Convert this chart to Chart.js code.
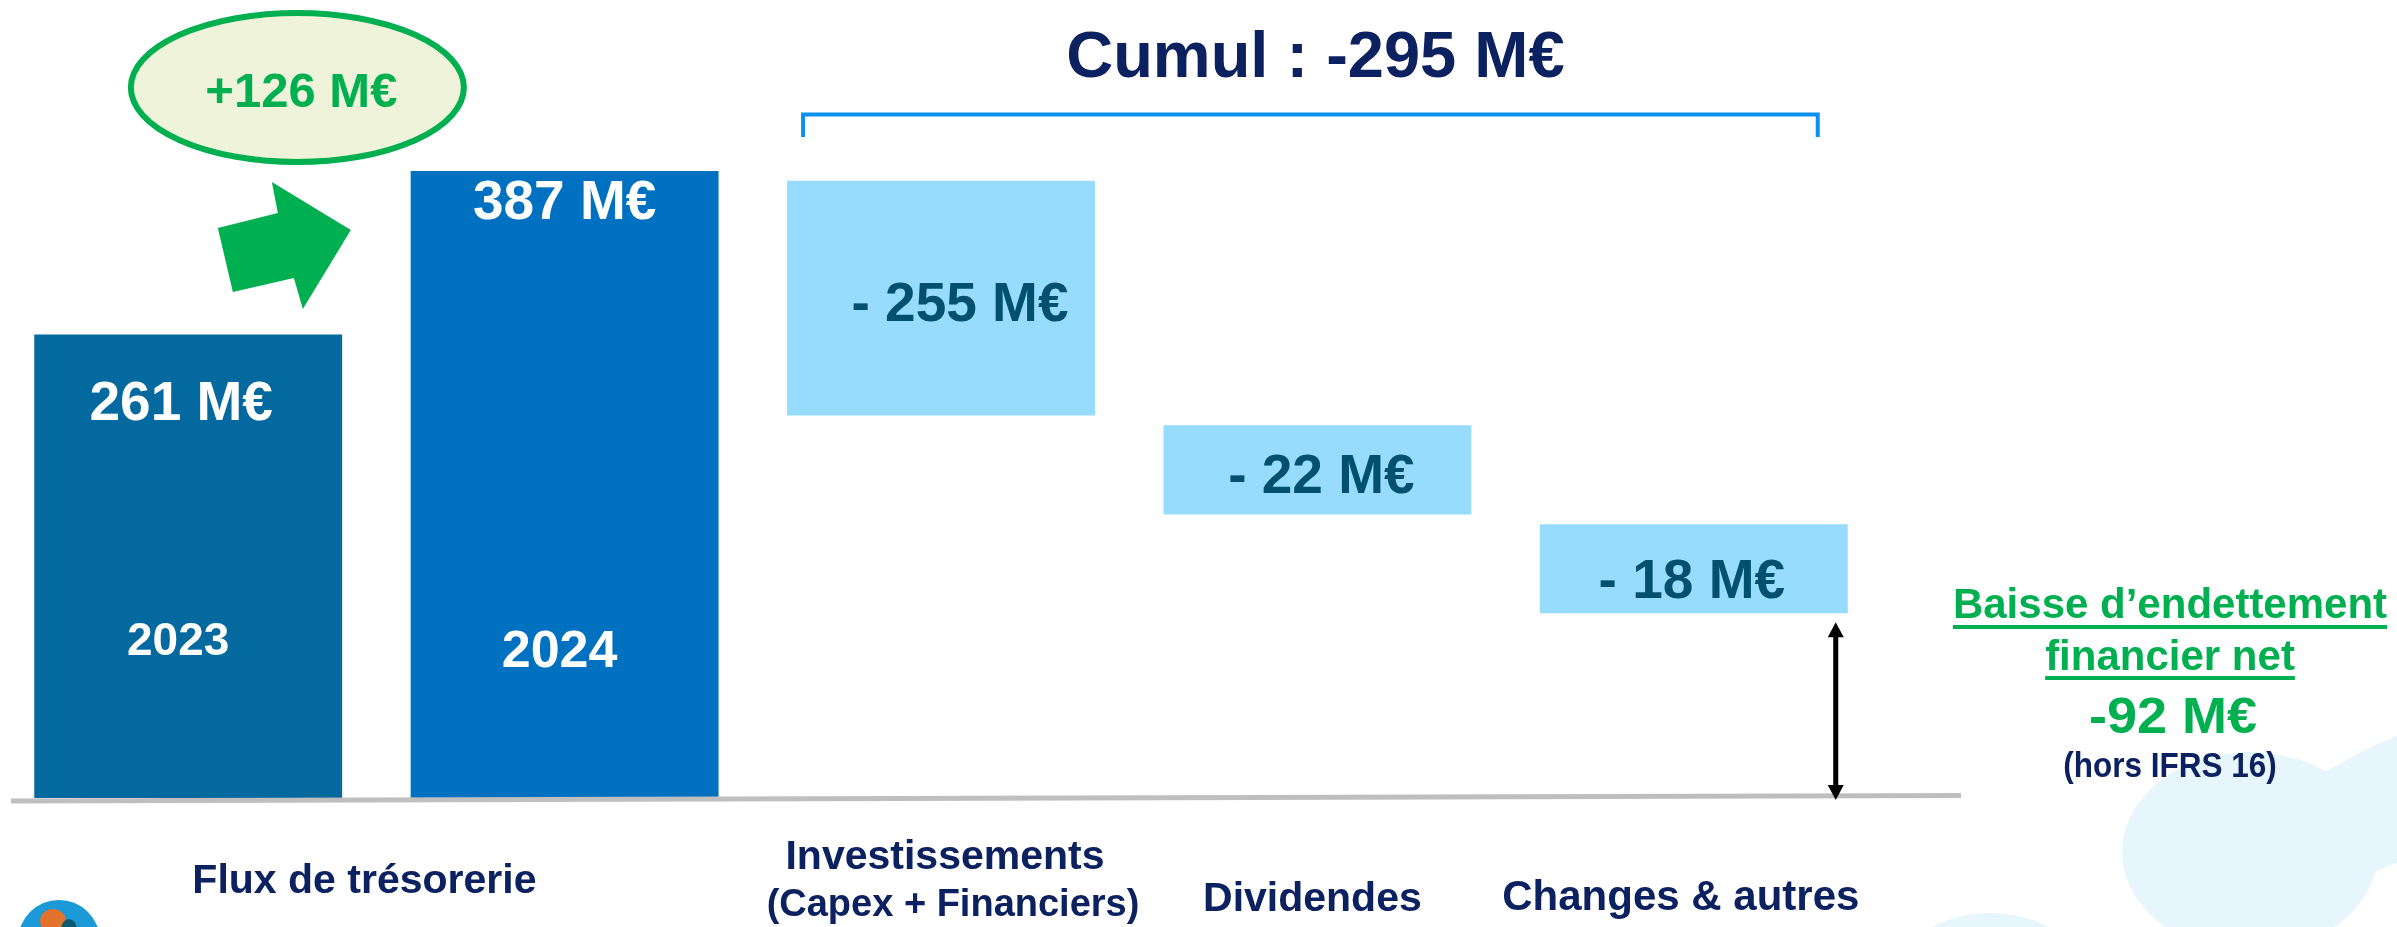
<!DOCTYPE html>
<html>
<head>
<meta charset="utf-8">
<script src="https://cdn.jsdelivr.net/npm/chart.js"></script>
<style>
  html, body { margin: 0; padding: 0; background: #ffffff; overflow: hidden; }
  canvas { display: block; }
</style>
</head>
<body>
<canvas id="c" width="2397" height="927"></canvas>
<script>
// ---- Data ----
const categories = ['2023', '2024', 'Investissements', 'Dividendes', 'Changes & autres'];
// Values printed on the bars (M€)
const valueLabels = [261, 387, -255, -22, -18];
// Bar extents as drawn on the slide (the slide is not drawn to scale),
// read off the picture on a hidden axis calibrated so the 2024 bar = 387
const barBase = [0, 0, 236, 175, 114];
const barTop  = [286, 387, 381, 230, 169];
const yearLabels = ['2023', '2024'];
const fluxLabel = 'Flux de trésorerie';
const axisLabels = [null, null, ['Investissements', '(Capex + Financiers)'], ['Dividendes'], ['Changes & autres']];
const deltaLabel = '+126 M€';
const cumulLabel = 'Cumul : -295 M€';
const debtTitle = ['Baisse d’endettement', 'financier net'];
const debtValue = '-92 M€';
const debtNote = '(hors IFRS 16)';

// ---- Styles ----
const barColors = ['#03699E', '#0070C0', '#97DCFD', '#97DCFD', '#97DCFD'];
const NAVY = '#0B2160';
const GREEN = '#00B050';
const TEAL = '#00506E';
const FONT = '"Liberation Sans", Arial, sans-serif';

function txt(ctx, s, x, y, size, color, sx, align) {
  ctx.save();
  ctx.font = 'bold ' + size + 'px ' + FONT;
  ctx.fillStyle = color;
  ctx.textAlign = align || 'center';
  ctx.textBaseline = 'alphabetic';
  ctx.translate(x, y);
  ctx.scale(sx || 1, 1);
  ctx.fillText(s, 0, 0);
  const w = ctx.measureText(s).width * (sx || 1);
  ctx.restore();
  return w;
}

function fmt(v) {
  return v < 0 ? '- ' + Math.abs(v) + ' M€' : v + ' M€';
}

const decoPlugin = {
  id: 'deco',
  beforeDatasetsDraw(chart) {
    const ctx = chart.ctx;
    ctx.save();
    ctx.fillStyle = '#ffffff';
    ctx.fillRect(0, 0, chart.width, chart.height);
    // faint background shapes (bottom right)
    ctx.fillStyle = '#E7F6FC';
    ctx.beginPath(); ctx.ellipse(2250, 852, 128, 100, 0, 0, Math.PI * 2); ctx.fill();
    ctx.beginPath(); ctx.ellipse(2395, 800, 175, 58, -0.45, 0, Math.PI * 2); ctx.fill();
    ctx.beginPath(); ctx.ellipse(1990, 1005, 110, 92, 0, 0, Math.PI * 2); ctx.fill();
    // partial logo bottom-left
    ctx.fillStyle = '#1B9AD7';
    ctx.beginPath(); ctx.arc(59, 941, 41, 0, Math.PI * 2); ctx.fill();
    ctx.fillStyle = '#ffffff';
    ctx.beginPath(); ctx.arc(59, 945, 25, 0, Math.PI * 2); ctx.fill();
    ctx.fillStyle = '#E2722C';
    ctx.beginPath(); ctx.ellipse(53, 921, 13, 12, 0, 0, Math.PI * 2); ctx.fill();
    ctx.fillStyle = '#0B5A6E';
    ctx.beginPath(); ctx.ellipse(69, 930, 8, 11, 0, 0, Math.PI * 2); ctx.fill();
    ctx.restore();
  },
  afterDatasetsDraw(chart) {
    const ctx = chart.ctx;
    const bars = chart.getDatasetMeta(0).data;
    const y0 = chart.scales.y.getPixelForValue(0);
    ctx.save();

    // base line
    ctx.strokeStyle = '#BFBFBF';
    ctx.lineWidth = 5;
    ctx.beginPath();
    ctx.moveTo(11, y0 + 3);
    ctx.lineTo(1961, y0 - 2.5);
    ctx.stroke();

    // value labels on bars
    txt(ctx, fmt(valueLabels[0]), bars[0].x - 7, bars[0].y + 85, 55, '#ffffff');
    txt(ctx, fmt(valueLabels[1]), bars[1].x, bars[1].y + 48, 55, '#ffffff');
    txt(ctx, yearLabels[0], bars[0].x - 10, y0 - 143, 46, '#ffffff');
    txt(ctx, yearLabels[1], bars[1].x - 5, y0 - 131, 52, '#ffffff');
    const dx = [0, 0, 19, 4, -2];
    const dy = [0, 0, 23, 23, 29];
    for (let i = 2; i < bars.length; i++) {
      const b = bars[i];
      const cy = (b.y + b.base) / 2;
      txt(ctx, fmt(valueLabels[i]), b.x + dx[i], cy + dy[i], 55, TEAL);
    }

    // category labels
    txt(ctx, fluxLabel, (bars[0].x + bars[1].x) / 2 - 12, 893, 41, NAVY);
    txt(ctx, axisLabels[2][0], bars[2].x + 4, 869, 41, NAVY);
    txt(ctx, axisLabels[2][1], bars[2].x + 12, 916, 38, NAVY);
    txt(ctx, axisLabels[3][0], bars[3].x - 5, 911, 41, NAVY);
    txt(ctx, axisLabels[4][0], bars[4].x - 13, 910, 42, NAVY);

    // bracket + cumul
    const bl = bars[2].x - bars[2].width / 2 + 16;
    const br = bars[4].x + bars[4].width / 2 - 30;
    ctx.strokeStyle = '#0A90F2';
    ctx.lineWidth = 4;
    ctx.lineJoin = 'miter';
    ctx.beginPath();
    ctx.moveTo(bl, 137);
    ctx.lineTo(bl, 114.5);
    ctx.lineTo(br, 114.5);
    ctx.lineTo(br, 137);
    ctx.stroke();
    txt(ctx, cumulLabel, bars[3].x - 2, 77, 65, NAVY);

    // ellipse with +126
    const ex = bars[0].x + 0.29 * (bars[1].x - bars[0].x);
    const ey = 87.5;
    ctx.fillStyle = '#EEF3D9';
    ctx.strokeStyle = GREEN;
    ctx.lineWidth = 6;
    ctx.beginPath();
    ctx.ellipse(ex, ey, 166.5, 74.5, 0, 0, Math.PI * 2);
    ctx.fill();
    ctx.stroke();
    txt(ctx, deltaLabel, ex + 4, 107, 49, GREEN);

    // green block arrow
    const pts = [[-79.5, 140.5], [-19.5, 125.5], [-25.5, 94.5], [53.5, 142.5], [5.5, 221.5], [-3.5, 190.5], [-64.5, 204.5]];
    ctx.fillStyle = GREEN;
    ctx.beginPath();
    pts.forEach((p, i) => { if (i === 0) ctx.moveTo(ex + p[0], ey + p[1]); else ctx.lineTo(ex + p[0], ey + p[1]); });
    ctx.closePath();
    ctx.fill();

    // black double arrow
    const ax = bars[4].x + bars[4].width / 2 - 12;
    const aTop = bars[4].base + 9;
    const aBot = y0 + 2;
    ctx.strokeStyle = '#000000';
    ctx.fillStyle = '#000000';
    ctx.lineWidth = 5;
    ctx.beginPath();
    ctx.moveTo(ax, aTop + 12);
    ctx.lineTo(ax, aBot - 12);
    ctx.stroke();
    ctx.beginPath();
    ctx.moveTo(ax, aTop); ctx.lineTo(ax - 8, aTop + 15); ctx.lineTo(ax + 8, aTop + 15); ctx.closePath(); ctx.fill();
    ctx.beginPath();
    ctx.moveTo(ax, aBot); ctx.lineTo(ax - 8, aBot - 15); ctx.lineTo(ax + 8, aBot - 15); ctx.closePath(); ctx.fill();

    // right text block
    const cx = 2170;
    let w = txt(ctx, debtTitle[0], cx, 618, 42, GREEN);
    ctx.fillStyle = GREEN;
    ctx.fillRect(cx - w / 2, 625, w, 4);
    w = txt(ctx, debtTitle[1], cx, 670, 42, GREEN);
    ctx.fillRect(cx - w / 2, 676, w, 4);
    txt(ctx, debtValue, cx + 3, 733, 50, GREEN, 1.08);
    txt(ctx, debtNote, cx, 777, 35, NAVY, 0.9);

    ctx.restore();
  }
};

new Chart(document.getElementById('c'), {
  type: 'bar',
  data: {
    labels: categories,
    datasets: [{
      data: barBase.map((b, i) => [b, barTop[i]]),
      backgroundColor: barColors,
      borderWidth: 0,
      borderSkipped: false,
      barPercentage: 0.818,
      categoryPercentage: 1
    }]
  },
  options: {
    responsive: false,
    animation: false,
    devicePixelRatio: 1,
    layout: { padding: { left: 0, right: 515, top: 0, bottom: 129 } },
    plugins: { legend: { display: false }, tooltip: { enabled: false } },
    scales: {
      x: { display: false, grid: { display: false } },
      y: { display: false, min: 0, max: 492.5, grid: { display: false } }
    }
  },
  plugins: [decoPlugin]
});
</script>
</body>
</html>
